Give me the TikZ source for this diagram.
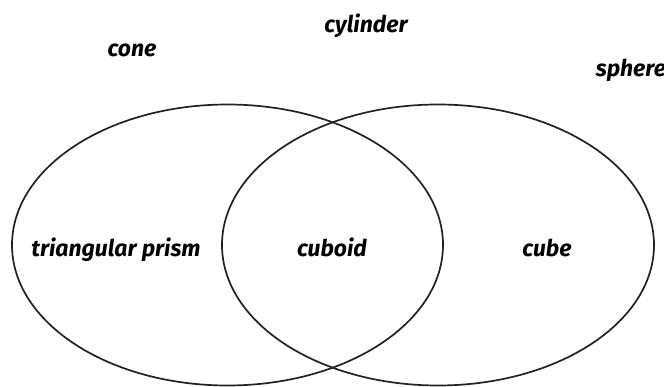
\documentclass[tikz,border=0pt]{standalone}
\usepackage{fontspec}
\setmainfont{Fira Sans}
\usepackage{tikz}
\definecolor{inkgray}{HTML}{222222}

\begin{document}
\begin{tikzpicture}[x=1pt,y=-1pt,
  solidname/.style={font=\bfseries\itshape\fontsize{23}{26}\selectfont,inner sep=0pt,anchor=base},
  ring/.style={draw=inkgray,line width=1.7pt}]
\useasboundingbox (0,0) rectangle (664,387);
\draw[ring] (227.5,245) ellipse [x radius=215.5,y radius=140.5];
\draw[ring] (438,245) ellipse [x radius=216,y radius=140.5];
\node[solidname] (cone) at (132,57) {cone};
\node[solidname] (cylinder) at (366,33) {cylinder};
\node[solidname] (sphere) at (631,77) {sphere};
\node[solidname] (prism) at (116,257) {triangular prism};
\node[solidname] (cuboid) at (332,257) {cuboid};
\node[solidname] (cube) at (547,257) {cube};
\end{tikzpicture}
\end{document}
